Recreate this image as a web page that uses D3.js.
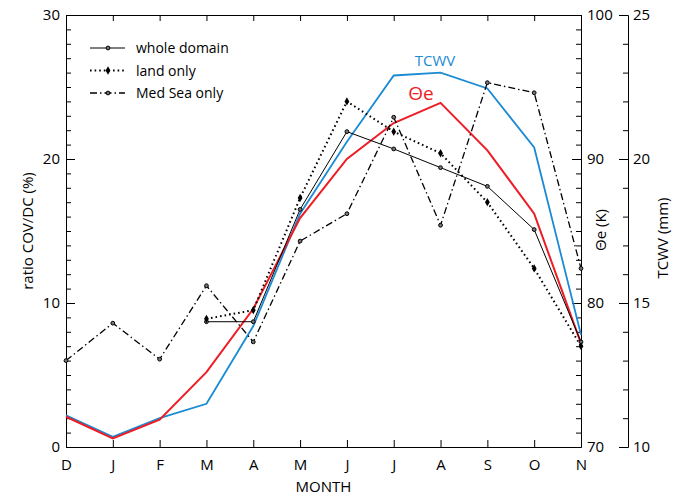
<!DOCTYPE html>
<html>
<head>
<meta charset="utf-8">
<script src="https://cdnjs.cloudflare.com/ajax/libs/d3/7.8.5/d3.min.js"></script>
<style>
  body { margin: 0; background: #fff; }
  text { font-family: "Open Sans", "Noto Sans", sans-serif; }
  .axis path, .axis line { stroke: #000; stroke-width: 1; }
</style>
</head>
<body>
<div id="main-vis"></div>
<script>
// month labels, Dec..Nov
var months = ["D", "J", "F", "M", "A", "M", "J", "J", "A", "S", "O", "N"];

// ratio COV/DC (%) -- null where there is no value
var wholeDomain = [null, null, null, 8.7, 8.7, 16.5, 21.9, 20.7, 19.4, 18.1, 15.1, 7.3];
var landOnly    = [null, null, null, 8.9, 9.5, 17.3, 24.0, 21.9, 20.4, 17.0, 12.4, 7.0];
var medSeaOnly  = [6.0, 8.6, 6.1, 11.2, 7.3, 14.3, 16.2, 22.9, 15.4, 25.3, 24.6, 12.4];

// theta-e (K) and TCWV (mm)
var thetaE = [72.1, 70.6, 71.9, 75.2, 79.6, 85.9, 90.0, 92.5, 93.9, 90.6, 86.2, 77.2];
var tcwv   = [11.1, 10.35, 11.0, 11.5, 14.2, 18.1, 20.6, 22.9, 23.0, 22.45, 20.4, 13.9];

var ratioTicks = [0, 10, 20, 30];
var thetaTicks = [70, 80, 90, 100];
var tcwvTicks  = [10, 15, 20, 25];

var W = 683, H = 496;
var margin = { left: 66, right: 581, top: 15, bottom: 447, tcwv: 628 };

var svg = d3.select("#main-vis").append("svg")
  .attr("width", W)
  .attr("height", H);

var x = d3.scaleLinear().domain([0, months.length - 1]).range([margin.left, margin.right]);
var yR = d3.scaleLinear().domain([0, 30]).range([margin.bottom, margin.top]);
var yT = d3.scaleLinear().domain([70, 100]).range([margin.bottom, margin.top]);
var yW = d3.scaleLinear().domain([10, 25]).range([margin.bottom, margin.top]);

// axes
function addAxis(axis, tx, ty) {
  var g = svg.append("g").attr("class", "axis")
    .attr("transform", "translate(" + tx + "," + ty + ")")
    .call(axis);
  g.selectAll("text").attr("font-size", 15).attr("fill", "#000");
  return g;
}

addAxis(d3.axisBottom(x).tickValues(d3.range(12)).tickSizeInner(-7).tickSizeOuter(0)
  .tickPadding(12).tickFormat(function (i) { return months[i]; }), 0, margin.bottom);
addAxis(d3.axisTop(x).tickValues(d3.range(12)).tickSizeInner(-6).tickSizeOuter(0)
  .tickFormat(""), 0, margin.top);

addAxis(d3.axisLeft(yR).tickValues(d3.range(0, 31)).tickSizeInner(-5).tickSizeOuter(0).tickFormat(""), margin.left, 0);
addAxis(d3.axisLeft(yR).tickValues(ratioTicks).tickSizeInner(-9).tickSizeOuter(0).tickPadding(6), margin.left, 0);

addAxis(d3.axisRight(yT).tickValues(d3.range(70, 101)).tickSizeInner(-5).tickSizeOuter(0).tickFormat(""), margin.right, 0);
addAxis(d3.axisRight(yT).tickValues(thetaTicks).tickSizeInner(-9).tickSizeOuter(0).tickPadding(6), margin.right, 0);

addAxis(d3.axisRight(yW).tickValues(d3.range(10, 26)).tickSizeInner(-5).tickSizeOuter(0).tickFormat(""), margin.tcwv, 0);
addAxis(d3.axisRight(yW).tickValues(tcwvTicks).tickSizeInner(-9).tickSizeOuter(0).tickPadding(5), margin.tcwv, 0);

// axis titles
svg.append("text").attr("x", (margin.left + margin.right) / 2).attr("y", 492)
  .attr("text-anchor", "middle").attr("font-size", 15).text("MONTH");
svg.append("text").attr("transform", "translate(33," + (margin.bottom + margin.top) / 2 + ") rotate(-90)")
  .attr("text-anchor", "middle").attr("font-size", 15).text("ratio COV/DC (%)");
svg.append("text").attr("transform", "translate(606,230) rotate(-90)")
  .attr("text-anchor", "middle").attr("font-size", 15).text("\u0398e (K)");
svg.append("text").attr("transform", "translate(668,238) rotate(-90)")
  .attr("text-anchor", "middle").attr("font-size", 15).text("TCWV (mm)");

// series
var styles = [
  { name: "whole domain", values: wholeDomain, dash: null, width: 1, marker: "open" },
  { name: "land only", values: landOnly, dash: "1.6,3", width: 2, marker: "filled" },
  { name: "Med Sea only", values: medSeaOnly, dash: "7,3,1.5,3", width: 1.3, marker: "open" }
];

var ratioLine = d3.line()
  .defined(function (d) { return d != null; })
  .x(function (d, i) { return x(i); })
  .y(function (d) { return yR(d); });

var diamond = d3.symbol().type(d3.symbolDiamond);

function drawMarker(g, cx, cy, kind) {
  if (kind === "filled") {
    g.append("path").attr("d", diamond.size(20)())
      .attr("transform", "translate(" + cx + "," + cy + ")")
      .attr("fill", "#000");
  } else {
    g.append("circle").attr("cx", cx).attr("cy", cy).attr("r", 1.9)
      .attr("fill", "#777").attr("stroke", "#000").attr("stroke-width", 1);
  }
}

// theta-e and TCWV
svg.append("path").datum(tcwv)
  .attr("d", d3.line().x(function (d, i) { return x(i); }).y(function (d) { return yW(d); }))
  .attr("fill", "none").attr("stroke", "#1b8bd3").attr("stroke-width", 1.8);
svg.append("path").datum(thetaE)
  .attr("d", d3.line().x(function (d, i) { return x(i); }).y(function (d) { return yT(d); }))
  .attr("fill", "none").attr("stroke", "#ee1c25").attr("stroke-width", 2);

styles.forEach(function (s) {
  var p = svg.append("path").datum(s.values)
    .attr("d", ratioLine)
    .attr("fill", "none").attr("stroke", "#000")
    .attr("stroke-width", s.width);
  if (s.dash) p.attr("stroke-dasharray", s.dash);
  var g = svg.append("g");
  s.values.forEach(function (v, i) {
    if (v != null) drawMarker(g, x(i), yR(v), s.marker);
  });
});

svg.append("text").attr("x", 435).attr("y", 66).attr("text-anchor", "middle")
  .attr("font-size", 15).attr("fill", "#1b8bd3").text("TCWV");
svg.append("text").attr("x", 421).attr("y", 100).attr("text-anchor", "middle")
  .attr("font-size", 19).attr("fill", "#ee1c25").text("\u0398e");

// legend
var legend = svg.append("g");
styles.forEach(function (s, i) {
  var ly = 48 + i * 22.5;
  var l = legend.append("line").attr("x1", 90).attr("x2", 125).attr("y1", ly).attr("y2", ly)
    .attr("stroke", "#000").attr("stroke-width", s.width);
  if (s.dash) l.attr("stroke-dasharray", s.dash);
  drawMarker(legend, 108, ly, s.marker);
  legend.append("text").attr("x", 136).attr("y", ly + 5).attr("font-size", 14).text(s.name);
});
</script>
</body>
</html>
